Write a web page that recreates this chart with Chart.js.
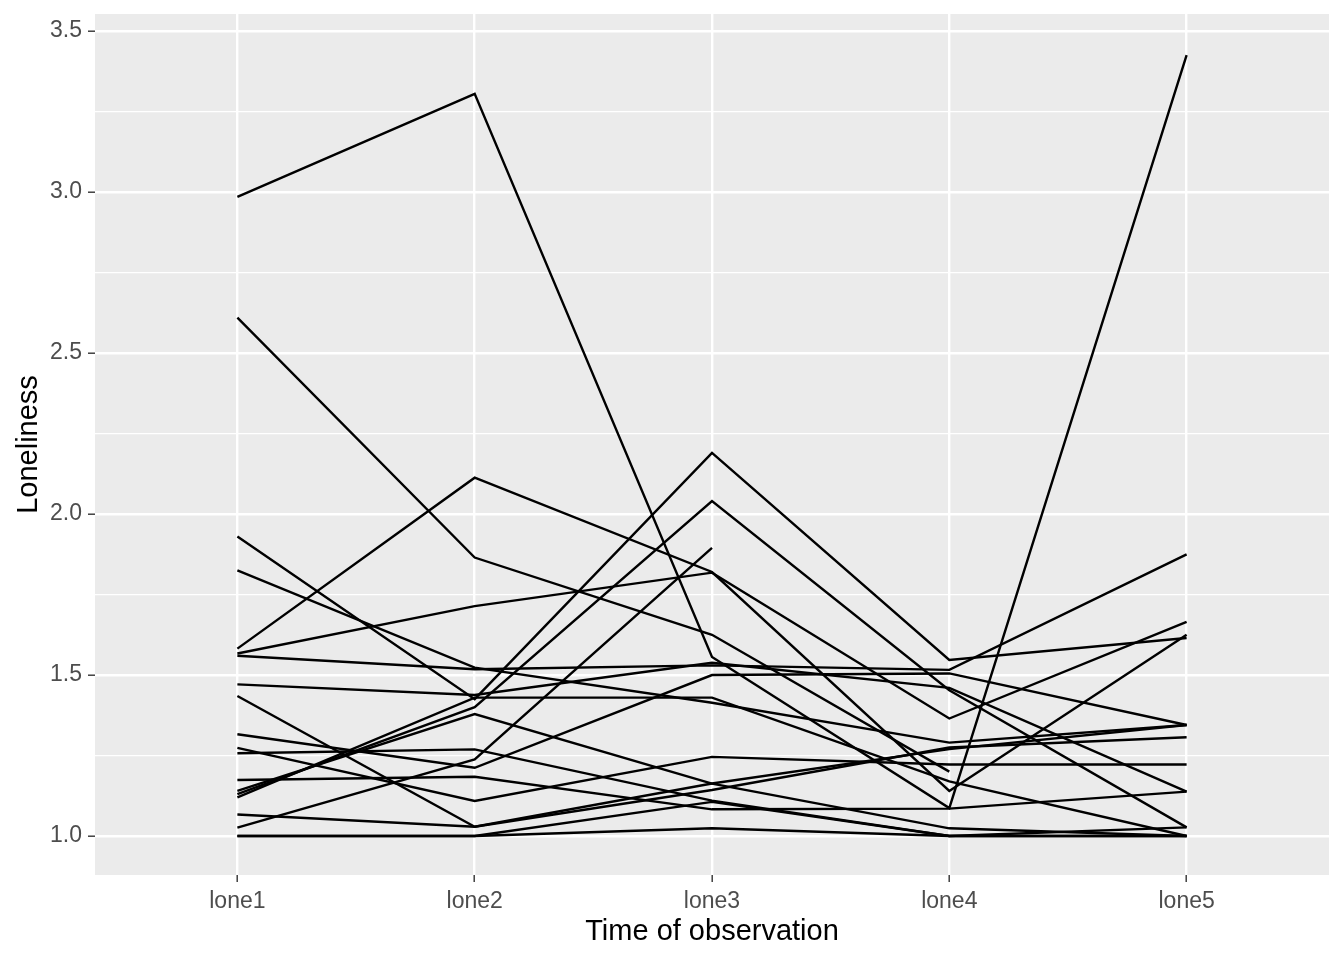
<!DOCTYPE HTML>
<html>

<head>
    <meta charset="UTF-8">
    <title>Loneliness over time</title>
    <script src="https://cdn.jsdelivr.net/npm/chart.js"></script>
    <style>
        html, body { margin: 0; padding: 0; background: #fff; }
        #wrap { width: 1344px; height: 960px; }
    </style>
</head>

<body>
    <div id="wrap"><canvas id="myChart"></canvas></div>
    <script>
        // time points on the x axis
        const categories = ['lone1', 'lone2', 'lone3', 'lone4', 'lone5'];

        // one value per person at each time point (null = missing)
        const lone1 = [2.985, 2.61, 1.582, 1.567, 1.93, 1.13, 1.026, 1.56, 1.825, 1.471, 1.435, 1.316, 1.274, 1.257, 1.174, 1.14, 1.12, 1.067, 1.0, 1.0];
        const lone2 = [3.305, 1.865, 2.113, 1.714, 1.425, 1.40, 1.238, 1.518, 1.523, 1.438, 1.029, 1.212, 1.109, 1.269, 1.184, 1.379, 1.43, 1.029, 1.0, 1.0];
        const lone3 = [1.556, 1.625, 1.82, 1.818, 2.19, 2.04, 1.895, 1.53, 1.414, 1.538, 1.163, 1.5, 1.246, 1.11, 1.083, 1.163, 1.43, 1.143, 1.024, 1.106];
        const lone4 = [1.087, 1.2, 1.14, 1.365, 1.547, 1.453, null, 1.516, 1.29, 1.46, 1.27, 1.505, 1.222, 1.0, 1.085, 1.024, 1.17, 1.275, 1.0, 1.0];
        const lone5 = [3.425, null, 1.625, 1.665, 1.615, 1.027, null, 1.875, 1.345, 1.138, 1.345, 1.345, 1.222, 1.0, 1.138, 1.0, 1.0, 1.307, 1.027, 1.0];

        const yTicks = [1.0, 1.25, 1.5, 1.75, 2.0, 2.25, 2.5, 2.75, 3.0, 3.25, 3.5];

        const columns = [lone1, lone2, lone3, lone4, lone5];
        const datasets = lone1.map((_, i) => ({
            data: columns.map((col, j) => ({ x: j + 1, y: col[i] })),
            borderColor: '#000000',
            borderWidth: 2.4,
            pointRadius: 0,
            fill: false,
            tension: 0,
            spanGaps: true
        }));

        const isMajor = v => Math.abs(v * 2 - Math.round(v * 2)) < 1e-6;

        // grey panel like ggplot's theme_grey
        const panelBg = {
            id: 'panelBg',
            beforeDraw(chart) {
                const { ctx, chartArea: a } = chart;
                ctx.save();
                ctx.fillStyle = '#EBEBEB';
                ctx.fillRect(a.left, a.top, a.right - a.left, a.bottom - a.top);
                ctx.restore();
            }
        };

        const font = '"Liberation Sans", Arial, Helvetica, sans-serif';

        var ctx = document.getElementById('myChart').getContext('2d');
        const chart = new Chart(ctx, {
            type: 'line',
            data: { datasets: datasets },
            plugins: [panelBg],
            options: {
                responsive: true,
                maintainAspectRatio: false,
                animation: false,
                layout: { padding: { left: 0, right: 15, top: 14, bottom: 0 } },
                plugins: {
                    legend: { display: false },
                    tooltip: { enabled: false }
                },
                scales: {
                    x: {
                        type: 'linear',
                        min: 0.4,
                        max: 5.6,
                        afterBuildTicks: s => { s.ticks = categories.map((c, i) => ({ value: i + 1 })); },
                        afterFit: s => { s.height = 85; },
                        border: { display: false },
                        grid: {
                            color: '#FFFFFF',
                            lineWidth: 2.4,
                            tickColor: '#333333',
                            tickWidth: 1.4,
                            tickLength: 7
                        },
                        ticks: {
                            autoSkip: false,
                            maxRotation: 0,
                            padding: 6,
                            color: '#4D4D4D',
                            font: { family: font, size: 23 },
                            callback: v => categories[Math.round(v) - 1] || ''
                        },
                        title: {
                            display: true,
                            text: 'Time of observation',
                            color: '#000000',
                            font: { family: font, size: 29 },
                            padding: { top: 0, bottom: 11 }
                        }
                    },
                    y: {
                        type: 'linear',
                        min: 0.879,
                        max: 3.553,
                        afterBuildTicks: s => { s.ticks = yTicks.map(v => ({ value: v })); },
                        afterFit: s => { s.width = 95; },
                        border: { display: false },
                        grid: {
                            color: '#FFFFFF',
                            lineWidth: c => isMajor(c.tick.value) ? 2.4 : 1.2,
                            tickColor: c => isMajor(c.tick.value) ? '#333333' : 'rgba(0,0,0,0)',
                            tickWidth: 1.4,
                            tickLength: 7
                        },
                        ticks: {
                            autoSkip: false,
                            padding: 6,
                            color: '#4D4D4D',
                            font: { family: font, size: 23, lineHeight: 0.6 },
                            callback: v => isMajor(v) ? v.toFixed(1) : ''
                        },
                        title: {
                            display: true,
                            text: 'Loneliness',
                            color: '#000000',
                            font: { family: font, size: 29 },
                            padding: { top: 12, bottom: 0 }
                        }
                    }
                }
            }
        });
    </script>
</body>

</html>
